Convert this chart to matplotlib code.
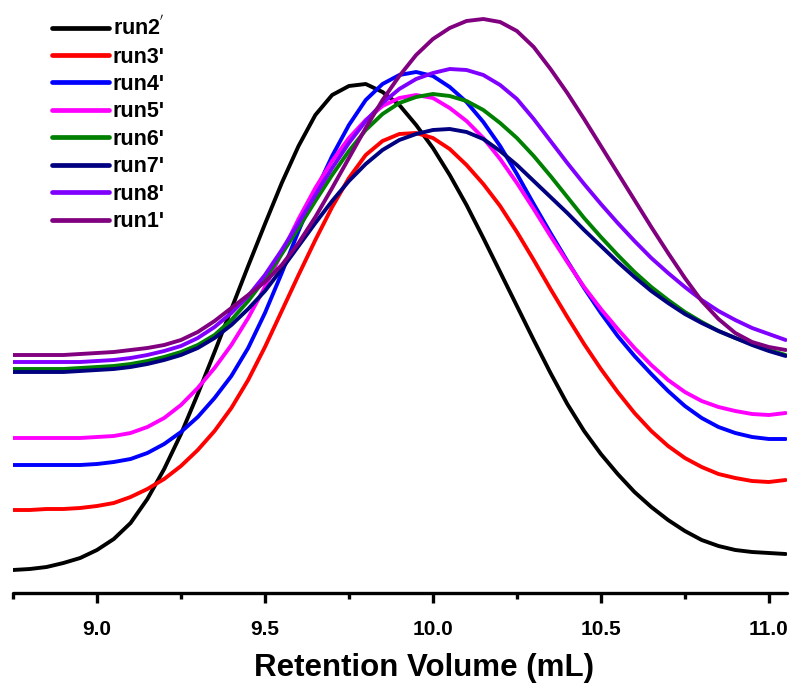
import numpy as np
import matplotlib
matplotlib.use("Agg")
import matplotlib.pyplot as plt
from matplotlib.ticker import MultipleLocator, FormatStrFormatter

plt.rcParams['font.family'] = ['Liberation Sans', 'DejaVu Sans']
plt.rcParams['font.weight'] = 'bold'

# Retention volume (mL)
volume = np.round(np.arange(8.75, 11.0501, 0.05), 2)

# Detector signal (a.u.), stacked traces
run2 = [23, 24, 26, 30, 35, 43, 54, 70, 94, 124, 159, 199, 241, 284, 327, 369,
        410, 447, 478, 498, 507, 509, 501, 488, 468, 445, 418, 388, 355, 321,
        287, 253, 220, 189, 162, 139, 119, 101, 86, 73, 62, 53, 47, 43, 41, 40, 39]
run3 = [83, 83, 84, 84, 85, 87, 90, 96, 104, 114, 127, 143, 162, 185, 213, 246,
        282, 318, 353, 386, 415, 438, 452, 459, 460, 455, 444, 428, 409, 387,
        361, 333, 304, 276, 249, 224, 201, 180, 162, 147, 135, 126, 119, 115,
        112, 111, 113]
run4 = [128, 128, 128, 128, 128, 129, 131, 134, 140, 149, 161, 176, 195, 217, 245,
        280, 320, 362, 401, 437, 468, 493, 509, 518, 521, 517, 506, 491, 471, 447,
        419, 389, 360, 332, 305, 280, 257, 237, 219, 202, 187, 175, 166, 160, 156,
        154, 154]
run5 = [155, 155, 155, 155, 155, 156, 157, 160, 166, 175, 188, 205, 225, 248, 275,
        306, 340, 374, 405, 432, 455, 473, 487, 495, 498, 495, 485, 472, 455, 434,
        410, 384, 357, 331, 306, 284, 264, 245, 228, 213, 201, 192, 186, 182, 179,
        178, 180]
run6 = [224, 224, 224, 224, 225, 226, 227, 229, 232, 236, 241, 248, 258, 273, 292,
        314, 339, 365, 392, 418, 442, 463, 479, 490, 496, 499, 497, 492, 483, 470,
        455, 437, 417, 396, 375, 356, 338, 321, 306, 293, 281, 271, 262, 255, 249,
        243, 238]
run7 = [221, 221, 221, 221, 222, 223, 224, 226, 229, 233, 238, 245, 255, 268, 284,
        302, 324, 347, 370, 392, 412, 429, 443, 453, 459, 463, 464, 461, 454, 442,
        428, 412, 396, 380, 363, 347, 331, 316, 302, 290, 279, 270, 262, 255, 248,
        242, 237]
run8 = [231, 231, 231, 231, 231, 232, 233, 235, 238, 242, 247, 255, 266, 280, 297,
        318, 343, 370, 398, 425, 450, 472, 490, 504, 514, 520, 524, 523, 518, 508,
        494, 474, 452, 430, 409, 389, 370, 352, 335, 320, 306, 293, 282, 273, 265,
        259, 253]
run1 = [238, 238, 238, 238, 239, 240, 241, 243, 245, 248, 253, 261, 272, 285, 298,
        311, 328, 350, 376, 405, 435, 465, 493, 517, 538, 554, 565, 572, 574, 571,
        562, 546, 524, 500, 474, 447, 420, 393, 366, 340, 315, 292, 274, 260, 251,
        246, 243]

series = [
    ("run2$^{'}$", run2, '#000000'),
    ("run3'", run3, '#FF0000'),
    ("run4'", run4, '#0000FF'),
    ("run5'", run5, '#FF00FF'),
    ("run6'", run6, '#008000'),
    ("run7'", run7, '#000080'),
    ("run8'", run8, '#8000FF'),
    ("run1'", run1, '#800080'),
]

fig = plt.figure(figsize=(7.95, 6.86), dpi=100)
ax = fig.add_axes([13 / 795, (686 - 593) / 686, 774 / 795, 593 / 686])

for label, values, color in series:
    ax.plot(volume, values, color=color, lw=2.8, label=label,
            solid_capstyle='round', solid_joinstyle='round')

ax.set_xlim(8.75, 11.054)
ax.set_ylim(0, 593)

for side in ('left', 'right', 'top'):
    ax.spines[side].set_visible(False)
ax.spines['bottom'].set_linewidth(2.4)
ax.spines['bottom'].set_capstyle('round')
ax.set_yticks([])

ax.xaxis.set_major_locator(MultipleLocator(0.5))
ax.xaxis.set_minor_locator(MultipleLocator(0.25))
ax.xaxis.set_major_formatter(FormatStrFormatter('%.1f'))
ax.tick_params(axis='x', which='major', direction='out', length=7.5, width=2.4,
               labelsize=15, pad=12)
ax.tick_params(axis='x', which='minor', direction='out', length=4.5, width=2.4)
for t in ax.get_xticklabels():
    t.set_fontweight('bold')

ax.set_xlabel('Retention Volume (mL)', fontsize=22.5, fontweight='bold',
              labelpad=10, x=0.531)

leg = ax.legend(loc='upper left', bbox_to_anchor=(0.0504, 0.974), frameon=False,
                fontsize=15.5, handlelength=2.65, handletextpad=0.18,
                labelspacing=0.30, borderpad=0, borderaxespad=0)
for line in leg.get_lines():
    line.set_linewidth(3.4)
for text in leg.get_texts():
    text.set_fontweight('bold')

fig.savefig('out.png', dpi=100)
